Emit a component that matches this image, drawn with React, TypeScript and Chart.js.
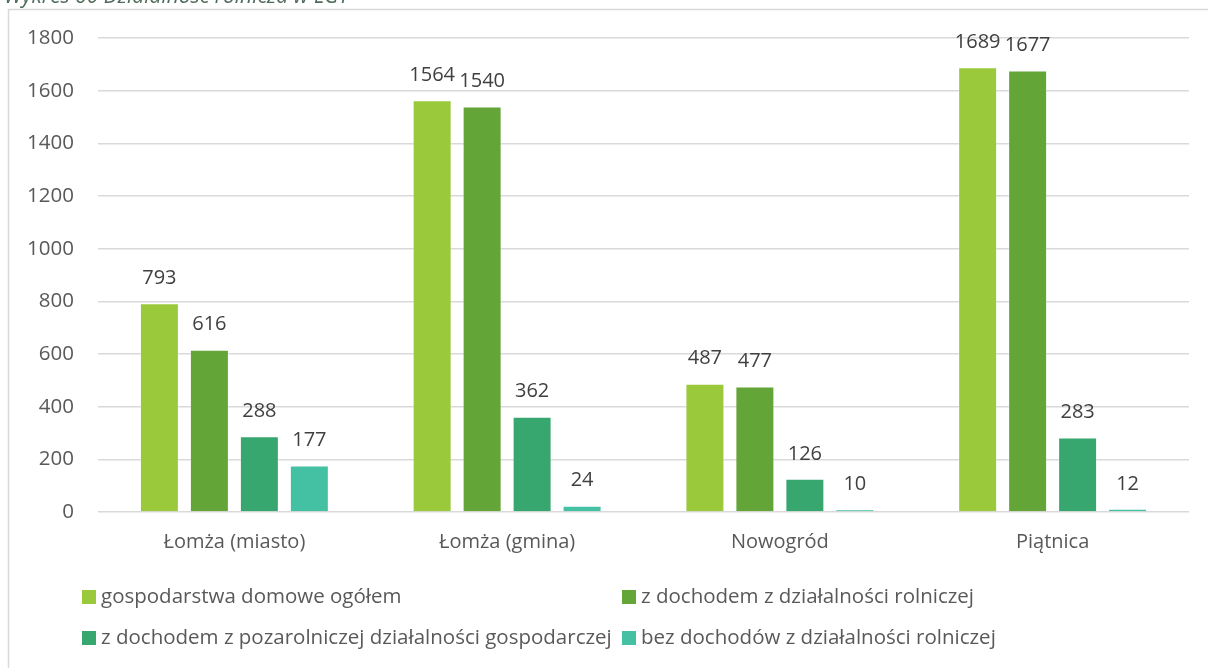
import React, { useEffect, useRef } from "react";
import { Chart, registerables } from "chart.js";

Chart.register(...registerables);

const categories = ["Łomża (miasto)", "Łomża (gmina)", "Nowogród", "Piątnica"];
const seriesNames = [
  "gospodarstwa domowe ogółem",
  "z dochodem z działalności rolniczej",
  "z dochodem z pozarolniczej działalności gospodarczej",
  "bez dochodów z działalności rolniczej",
];
const householdsTotal = [793, 1564, 487, 1689];
const agriIncome = [616, 1540, 477, 1677];
const nonAgriIncome = [288, 362, 126, 283];
const noAgriIncome = [177, 24, 10, 12];
const seriesColors = ["#9ACA3C", "#63A537", "#37A76F", "#44C1A3"];
const yTicks = [0, 200, 400, 600, 800, 1000, 1200, 1400, 1600, 1800];
const titleText = "Wykres 60 Działalność rolnicza w LGT";

const FONT = "'Open Sans', 'Noto Sans', sans-serif";

const framePlugin = {
  id: "frame",
  beforeDraw(chart: any) {
    const ctx = chart.ctx;
    ctx.save();
    ctx.fillStyle = "#ffffff";
    ctx.fillRect(0, 0, chart.width, chart.height);
    ctx.strokeStyle = "#d9d9d9";
    ctx.lineWidth = 1.5;
    ctx.beginPath();
    ctx.moveTo(8.5, chart.height + 2);
    ctx.lineTo(8.5, 9.5);
    ctx.lineTo(chart.width + 2, 9.5);
    ctx.stroke();
    ctx.font = `italic 21px ${FONT}`;
    ctx.fillStyle = "#4f6b5c";
    ctx.textAlign = "left";
    ctx.textBaseline = "alphabetic";
    ctx.fillText(titleText, 4, 3);
    ctx.restore();
  },
};

const labelPlugin = {
  id: "barLabels",
  afterDatasetsDraw(chart: any) {
    const ctx = chart.ctx;
    ctx.save();
    ctx.font = `20px ${FONT}`;
    ctx.fillStyle = "#404040";
    ctx.textAlign = "center";
    ctx.textBaseline = "middle";
    chart.data.datasets.forEach((ds: any, i: number) => {
      const meta = chart.getDatasetMeta(i);
      meta.data.forEach((bar: any, j: number) => {
        ctx.fillText(String(ds.data[j]), bar.x, bar.y - 25);
      });
    });
    ctx.restore();
  },
};

const legendPlugin = {
  id: "gridLegend",
  afterDraw(chart: any) {
    const ctx = chart.ctx;
    const cols = [82, 622];
    const rows = [597, 638];
    ctx.save();
    ctx.font = `20.5px ${FONT}`;
    ctx.textBaseline = "middle";
    ctx.textAlign = "left";
    chart.data.datasets.forEach((ds: any, i: number) => {
      const x = cols[i % 2];
      const y = rows[Math.floor(i / 2)];
      ctx.fillStyle = ds.backgroundColor;
      ctx.fillRect(x, y - 7, 14, 14);
      ctx.fillStyle = "#595959";
      ctx.fillText(ds.label, x + 19, y);
    });
    ctx.restore();
  },
};

export default function App() {
  const ref = useRef<HTMLCanvasElement | null>(null);
  useEffect(() => {
    if (!ref.current) return;
    const values = [householdsTotal, agriIncome, nonAgriIncome, noAgriIncome];
    const chart = new Chart(ref.current, {
      type: "bar",
      data: {
        labels: categories,
        datasets: values.map((v, i) => ({
          label: seriesNames[i],
          data: v,
          backgroundColor: seriesColors[i],
          borderColor: "rgba(255,255,255,0.35)",
          borderWidth: 1,
          categoryPercentage: 0.733,
          barPercentage: 0.78,
        })),
      },
      options: {
        responsive: false,
        animation: false,
        devicePixelRatio: 1,
        layout: { padding: { left: 0, right: 19, top: 38, bottom: 106 } },
        plugins: {
          legend: { display: false },
          tooltip: { enabled: false },
          title: { display: false },
        },
        scales: {
          x: {
            grid: { display: false, drawTicks: false },
            border: { display: false },
            ticks: { color: "#595959", font: { family: FONT, size: 20 }, padding: 18 },
            afterFit(scale: any) {
              scale.height = 50;
            },
          },
          y: {
            min: 0,
            max: 1800,
            afterBuildTicks(scale: any) {
              scale.ticks = yTicks.map((v) => ({ value: v }));
            },
            grid: { color: "#d9d9d9", lineWidth: 1.5, drawTicks: false },
            border: { display: false },
            ticks: {
              color: "#595959",
              font: { family: FONT, size: 20.5 },
              padding: 24,
              callback: (v: any) => String(v),
            },
            afterFit(scale: any) {
              scale.width = 98;
            },
          },
        },
      },
      plugins: [framePlugin, labelPlugin, legendPlugin],
    });
    return () => chart.destroy();
  }, []);
  return (
    <div style={{ position: "fixed", left: 0, top: 0, width: 1208, height: 668, background: "#fff" }}>
      <canvas ref={ref} width={1208} height={668} style={{ width: 1208, height: 668, display: "block" }} />
    </div>
  );
}
